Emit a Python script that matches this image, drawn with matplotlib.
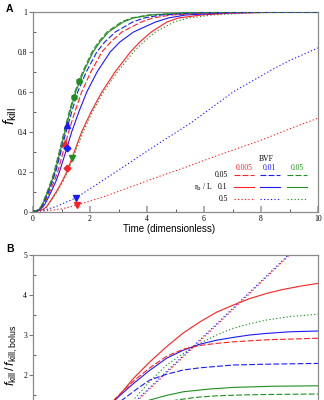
import matplotlib
matplotlib.use('Agg')
import matplotlib.pyplot as plt
from matplotlib.ticker import FixedLocator, FixedFormatter

plt.rcParams['font.family'] = ['Liberation Serif', 'DejaVu Serif']
plt.rcParams['mathtext.fontset'] = 'custom'
plt.rcParams['mathtext.rm'] = 'Liberation Sans'
plt.rcParams['mathtext.it'] = 'Liberation Sans:italic'
plt.rcParams['mathtext.bf'] = 'Liberation Sans:bold'
plt.rcParams['lines.scale_dashes'] = False

# ---------------- data ----------------
bvf_labels = ['0.005', '0.01', '0.05']
rbl_labels = ['0.05', '0.1', '0.5']

# Panel A: f_kill levels and the time at which each curve reaches them
fA_levels = [0, 0.003, 0.01, 0.025, 0.05, 0.1, 0.15, 0.2, 0.3, 0.4, 0.5, 0.6, 0.7,
             0.8, 0.85, 0.9, 0.95, 0.97, 0.985, 0.995, 1.0]
tA_green_dash = [0, 0.10, 0.19, 0.28, 0.36, 0.50, 0.63, 0.74, 0.92, 1.09, 1.27, 1.47,
                 1.74, 2.07, 2.30, 2.60, 3.10, 3.45, 4.05, 5.2, 7.5]
tA_green_sol = [0, 0.11, 0.20, 0.30, 0.38, 0.52, 0.65, 0.77, 0.95, 1.12, 1.30, 1.50,
                1.78, 2.11, 2.35, 2.65, 3.17, 3.52, 4.15, 5.3, 7.6]
tA_blue_dash = [0, 0.11, 0.21, 0.31, 0.40, 0.55, 0.68, 0.80, 0.98, 1.16, 1.36, 1.57,
                1.87, 2.24, 2.52, 2.89, 3.50, 3.90, 4.50, 5.7, 8.0]
tA_red_dash = [0, 0.12, 0.22, 0.33, 0.43, 0.59, 0.74, 0.87, 1.06, 1.25, 1.47, 1.71,
               2.03, 2.42, 2.73, 3.12, 3.80, 4.20, 4.85, 6.1, 8.5]
tA_blue_sol = [0, 0.13, 0.25, 0.36, 0.47, 0.64, 0.80, 0.93, 1.15, 1.36, 1.61, 1.89,
               2.25, 2.71, 3.05, 3.53, 4.30, 4.75, 5.35, 6.7, 9.0]
tA_red_sol = [0, 0.18, 0.35, 0.48, 0.60, 0.82, 1.02, 1.19, 1.45, 1.71, 2.04, 2.42,
              2.88, 3.42, 3.75, 4.15, 4.70, 5.10, 5.90, 7.0, 9.0]
tA_green_dot = [0, 0.19, 0.36, 0.50, 0.62, 0.85, 1.05, 1.22, 1.49, 1.76, 2.09, 2.48,
                2.96, 3.53, 3.88, 4.30, 4.95, 5.45, 6.30, 7.5, 9.5]

tA_red_dot = [0, 0.5, 1.0, 1.54, 2.5, 3.5, 4.43, 5.18, 6.5, 8.05, 9.0, 10]
fA_red_dot = [0, 0.004, 0.013, 0.032, 0.075, 0.127, 0.176, 0.213, 0.282, 0.36, 0.414, 0.468]
tA_blue_dot = [0, 0.36, 0.83, 1.5, 2.5, 3.5, 4.43, 5.5, 7.03, 8.5, 9.05, 10]
fA_blue_dot = [0, 0.005, 0.026, 0.068, 0.16, 0.255, 0.343, 0.44, 0.60, 0.72, 0.76, 0.82]

marker_t = [1.62, 1.44, 1.21, 1.11, 1.19, 1.21, 1.36, 1.50, 1.54]
marker_f = [0.656, 0.572, 0.435, 0.343, 0.318, 0.22, 0.268, 0.068, 0.032]
marker_c = ['g', 'g', 'b', 'r', 'b', 'r', 'g', 'b', 'r']
marker_s = ['h', 'h', '^', '^', 'D', 'D', 'v', 'v', 'v']

# Panel B: f_kill / f_kill,bolus
tB_red_sol = [2.4, 2.94, 3.53, 4.1, 4.69, 5.27, 5.86, 6.44, 7.03, 7.6, 8.2, 8.78, 9.37, 10]
rB_red_sol = [1.0, 1.42, 1.92, 2.33, 2.71, 3.05, 3.33, 3.57, 3.75, 3.91, 4.04, 4.14, 4.22, 4.29]
tB_blue_sol = [2.4, 2.94, 3.53, 4.1, 4.69, 5.27, 5.86, 6.44, 7.03, 7.6, 8.2, 9.0, 10]
rB_blue_sol = [1.05, 1.42, 1.79, 2.12, 2.42, 2.62, 2.77, 2.87, 2.94, 3.0, 3.04, 3.08, 3.1]
tB_green_sol = [3.0, 3.5, 4.1, 4.69, 5.27, 6.2, 7.03, 8.5, 10]
rB_green_sol = [1.12, 1.24, 1.375, 1.49, 1.58, 1.65, 1.69, 1.72, 1.73]
tB_red_dash = [2.4, 2.94, 3.53, 4.1, 4.69, 5.3, 5.86, 6.44, 7.03, 8.2, 10]
rB_red_dash = [1.03, 1.45, 1.85, 2.18, 2.47, 2.65, 2.74, 2.79, 2.83, 2.88, 2.92]
tB_blue_dash = [2.6, 2.95, 3.29, 3.7, 4.1, 4.69, 5.27, 5.86, 7.03, 8.2, 10]
rB_blue_dash = [1.08, 1.28, 1.46, 1.68, 1.875, 2.02, 2.125, 2.18, 2.25, 2.27, 2.29]
tB_green_dash = [4.0, 4.5, 5.04, 5.7, 6.44, 7.5, 8.5, 10]
rB_green_dash = [1.2, 1.29, 1.375, 1.44, 1.48, 1.505, 1.515, 1.525]
tB_green_dot = [3.0, 3.52, 4.1, 4.69, 5.27, 5.86, 6.44, 7.03, 7.6, 8.2, 9.0, 10]
rB_green_dot = [1.0, 1.375, 1.84, 2.25, 2.54, 2.79, 3.0, 3.17, 3.28, 3.375, 3.46, 3.52]
tB_blue_dot = [3.1, 3.64, 5.0, 6.3, 7.6, 8.96, 9.6]
rB_blue_dot = [1.0, 1.375, 2.30, 3.18, 4.07, 5.0, 5.44]
tB_red_dot = [3.15, 3.69, 5.05, 6.35, 7.65, 9.0, 9.6]
rB_red_dot = [1.0, 1.375, 2.30, 3.18, 4.07, 5.0, 5.41]

# ---------------- styling ----------------
COL = {'r': '#ff2020', 'b': '#1a1aff', 'g': '#1f8f1f'}
DASH = (4.2, 1.6)
DOT = (0.9, 1.6)
LW = 0.8
SPINE = '#8a8a8a'
SANS = 'Liberation Sans'

fig = plt.figure(figsize=(3.24, 4.0), dpi=100)
axA = fig.add_axes([33 / 324, 1 - 211.5 / 400, 285 / 324, 199.5 / 400])
axB = fig.add_axes([33 / 324, 1 - 455 / 400, 285 / 324, 200 / 400])


def style(ax, yticks, ylabels, yminor):
    ax.set_xlim(0, 10)
    for s in ax.spines.values():
        s.set_color(SPINE)
        s.set_linewidth(0.9)
    ax.xaxis.set_major_locator(FixedLocator([0, 2, 4, 6, 8, 10]))
    ax.xaxis.set_minor_locator(FixedLocator([1, 3, 5, 7, 9]))
    ax.xaxis.set_major_formatter(FixedFormatter(['0', '2', '4', '6', '8', '10']))
    ax.yaxis.set_major_locator(FixedLocator(yticks))
    ax.yaxis.set_major_formatter(FixedFormatter(ylabels))
    ax.yaxis.set_minor_locator(FixedLocator(yminor))
    ax.tick_params(axis='x', which='major', direction='in', length=4, width=1.2,
                   color='#a0a0a0', labelsize=5.5, pad=2.5)
    ax.tick_params(axis='x', which='minor', direction='in', length=2, width=0.6,
                   color='#444444')
    ax.tick_params(axis='y', which='major', direction='out', length=3, width=0.8,
                   color='#777777', labelsize=5.5, pad=1.2)
    ax.tick_params(axis='y', which='minor', direction='in', length=2, width=0.6,
                   color='#444444')


style(axA, [0, 0.2, 0.4, 0.6, 0.8, 1.0], ['0', '0.2', '0.4', '0.6', '0.8', '1'],
      [0.1, 0.3, 0.5, 0.7, 0.9])
axA.set_ylim(0, 1)
style(axB, [2, 3, 4, 5], ['2', '3', '4', '5'],
      [1.5, 2.5, 3.5, 4.5])
axB.set_ylim(0, 5)
axB.tick_params(axis='x', labelbottom=False)

# Panel A curves
for t, f, c in [(tA_red_dot, fA_red_dot, 'r'), (tA_blue_dot, fA_blue_dot, 'b'),
                (tA_green_dot, fA_levels, 'g')]:
    axA.plot(t, f, color=COL[c], lw=LW, dashes=DOT, zorder=2)
for t, c in [(tA_red_sol, 'r'), (tA_blue_sol, 'b'), (tA_green_sol, 'g')]:
    axA.plot(t + [10], fA_levels + [1.0], color=COL[c], lw=LW, zorder=3)
for t, c in [(tA_red_dash, 'r'), (tA_blue_dash, 'b'), (tA_green_dash, 'g')]:
    axA.plot(t + [10], fA_levels + [1.0], color=COL[c], lw=LW, dashes=DASH, zorder=4)
axA.plot([tA_green_dot[-1], 10], [1.0, 1.0], color=COL['g'], lw=LW, dashes=DOT, zorder=2)
for t, f, c, m in zip(marker_t, marker_f, marker_c, marker_s):
    axA.plot([t], [f], marker=m, color=COL[c], ms=4.2 if m != 'D' else 3.4,
             ls='none', zorder=5, clip_on=False)

# Panel B curves
for t, r, c in [(tB_green_dot, rB_green_dot, 'g'), (tB_blue_dot, rB_blue_dot, 'b'),
                (tB_red_dot, rB_red_dot, 'r')]:
    axB.plot(t, r, color=COL[c], lw=LW, dashes=DOT, zorder=2)
for t, r, c in [(tB_red_sol, rB_red_sol, 'r'), (tB_blue_sol, rB_blue_sol, 'b'),
                (tB_green_sol, rB_green_sol, 'g')]:
    axB.plot(t, r, color=COL[c], lw=LW, zorder=3)
for t, r, c in [(tB_red_dash, rB_red_dash, 'r'), (tB_blue_dash, rB_blue_dash, 'b'),
                (tB_green_dash, rB_green_dash, 'g')]:
    axB.plot(t, r, color=COL[c], lw=LW, dashes=DASH, zorder=4)

# Legend (manual table)
tr = axA.transAxes
col_x = [0.742, 0.830, 0.926]
row_y = [0.183, 0.121, 0.063]
half = 0.035
styles = [DASH, None, DOT]
axA.text(0.82, 0.262, 'BVF', transform=tr, ha='center', va='center', fontsize=5.5)
for j, (lab, c) in enumerate(zip(bvf_labels, ['r', 'b', 'g'])):
    axA.text(col_x[j], 0.2195, lab, transform=tr, ha='center', va='center',
             fontsize=5.5, color=COL[c])
for i, lab in enumerate(rbl_labels):
    axA.text(0.683, row_y[i], lab, transform=tr, ha='right', va='center', fontsize=5.5)
    for j, c in enumerate(['r', 'b', 'g']):
        kw = {} if styles[i] is None else {'dashes': styles[i]}
        axA.plot([col_x[j] - half, col_x[j] + half], [row_y[i], row_y[i]],
                 transform=tr, color=COL[c], lw=LW, **kw)
axA.text(0.63, row_y[1], r'r$_{\rm b}$ / L', transform=tr, ha='right', va='center',
         fontsize=5.5, math_fontfamily='dejavuserif')

# Labels
fig.text(169.5 / 324, 1 - 229 / 400, 'Time (dimensionless)', ha='center', va='center',
         family=SANS, fontsize=7)
fig.text(10 / 324, 1 - 116 / 400, r'$\mathit{f}_{\mathrm{kill}}$', rotation=90,
         ha='center', va='center', fontsize=11)
fig.text(12 / 324, 1 - 355 / 400,
         r'$\mathit{f}_{\mathrm{kill}}\,/\,\mathit{f}_{\mathrm{kill,bolus}}$',
         rotation=90, ha='center', va='center', fontsize=9)
fig.text(9 / 324, 1 - 9 / 400, 'A', ha='center', va='center', family=SANS,
         fontweight='bold', fontsize=7.5)
fig.text(10 / 324, 1 - 249 / 400, 'B', ha='center', va='center', family=SANS,
         fontweight='bold', fontsize=7.5)

fig.savefig('out.png', dpi=100)
